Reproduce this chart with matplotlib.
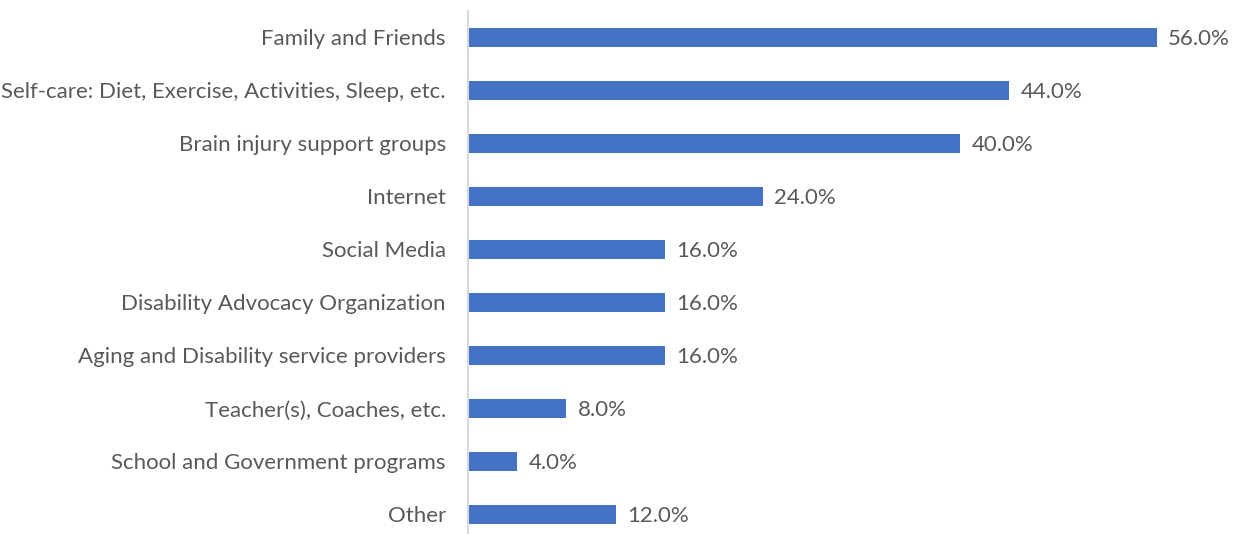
import matplotlib
matplotlib.use("Agg")
import matplotlib.pyplot as plt

categories = [
    "Family and Friends",
    "Self-care: Diet, Exercise, Activities, Sleep, etc.",
    "Brain injury support groups",
    "Internet",
    "Social Media",
    "Disability Advocacy Organization",
    "Aging and Disability service providers",
    "Teacher(s), Coaches, etc.",
    "School and Government programs",
    "Other",
]
percents = [56.0, 44.0, 40.0, 24.0, 16.0, 16.0, 16.0, 8.0, 4.0, 12.0]

plt.rcParams["font.family"] = ["Lato", "DejaVu Sans"]
text_color = "#595959"
fs = 16

fig = plt.figure(figsize=(12.37, 5.34), dpi=100)
ax = fig.add_axes([468 / 1237, -7 / 534, 769 / 1237, 530 / 534])

pos = list(range(len(categories)))
ax.barh(pos, percents, height=0.34, color="#4472C4")

# value labels just past the end of each bar
for y, v in zip(pos, percents):
    ax.annotate(f"{v:.1f}%", (v, y), xytext=(8, 0), textcoords="offset points",
                va="center_baseline", ha="left", fontsize=fs, color=text_color)

ax.set_xlim(0, 62.5)
ax.set_ylim(9.5, -0.5)
ax.set_yticks(pos)
ax.set_yticklabels(categories, fontsize=fs, color=text_color, va="center_baseline")
ax.tick_params(axis="y", length=0, pad=16)
ax.set_xticks([])

for side in ["top", "right", "bottom"]:
    ax.spines[side].set_visible(False)
ax.spines["left"].set_color("#D9D9D9")
ax.spines["left"].set_linewidth(1.5)

fig.savefig("out.png", dpi=100)
